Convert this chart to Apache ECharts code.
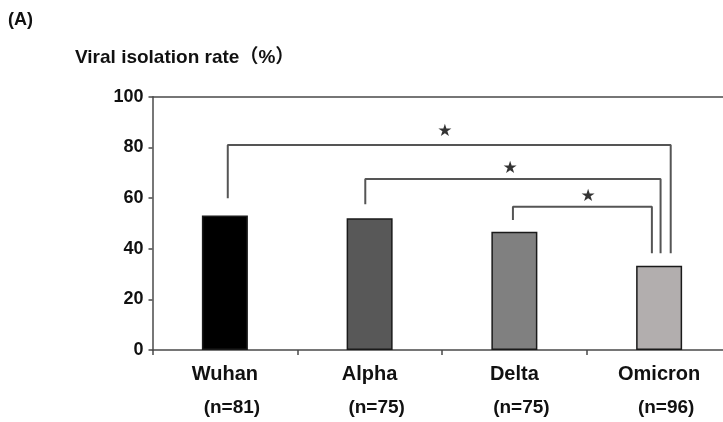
<!DOCTYPE html>
<html>
<head>
<meta charset="utf-8">
<script src="https://cdn.jsdelivr.net/npm/echarts@6/dist/echarts.min.js"></script>
<style>
html,body{margin:0;padding:0;background:#fff;}
#c{width:723px;height:422px;}
</style>
</head>
<body>
<div id="c"></div>
<script>
// ---- data ----
const categories = ["Wuhan", "Alpha", "Delta", "Omicron"];
const sampleSizes = ["(n=81)", "(n=75)", "(n=75)", "(n=96)"];
const isolationRate = [53.1, 52.0, 46.7, 33.3];
const yTicks = [0, 20, 40, 60, 80, 100];
// significance brackets: [leftX, leftBottomY, topY, rightX, rightBottomY] in category units / %
const bracket1 = [0.02, 59.9, 80.9, 3.08, 38.2];
const bracket2 = [0.97, 57.5, 67.5, 3.01, 38.2];
const bracket3 = [1.99, 51.3, 56.6, 2.95, 38.2];
const starX = [1.52, 1.97, 2.51];
const starY = [86.3, 71.7, 60.5];
const starText = "★";

const barColors = ["#000000", "#585858", "#808080", "#b2aeae"];
const lineColor = "#4a4a4a";
const font = "'Liberation Sans', Arial, 'Noto Sans CJK JP', sans-serif";

const brackets = [bracket1, bracket2, bracket3];
const bracketSeries = brackets.map(b => ({
  type: "line",
  xAxisIndex: 1,
  yAxisIndex: 0,
  symbol: "none",
  silent: true,
  animation: false,
  lineStyle: { color: "#555", width: 2 },
  data: [[b[0], b[1]], [b[0], b[2]], [b[3], b[2]], [b[3], b[4]]]
}));

const chart = echarts.init(document.getElementById("c"), null, { renderer: "canvas" });
chart.setOption({
  animation: false,
  backgroundColor: "#fff",
  title: [
    { text: "(A)", left: 8, top: 11, padding: 0, textStyle: { fontFamily: font, fontWeight: "bold", fontSize: 18, color: "#111" } },
    { text: "Viral isolation rate（%）", left: 75, top: 48, padding: 0, textStyle: { fontFamily: font, fontWeight: "bold", fontSize: 19, color: "#111" } }
  ],
  grid: { left: 152.5, width: 579, top: 96.7, height: 253.3, containLabel: false, outerBoundsMode: "none" },
  xAxis: [
    {
      type: "category",
      data: categories,
      position: "bottom",
      axisLine: { show: true, onZero: false, lineStyle: { color: lineColor, width: 1.5 } },
      axisTick: { show: true, alignWithLabel: false, length: 5, lineStyle: { color: lineColor, width: 1.5 } },
      axisLabel: {
        margin: 8,
        interval: 0,
        formatter: (v, i) => "{a|" + v + "}\n{b|" + sampleSizes[i] + "}",
        rich: {
          a: { fontFamily: font, fontWeight: "bold", fontSize: 20, color: "#111", lineHeight: 33 },
          b: { fontFamily: font, fontWeight: "bold", fontSize: 19, color: "#111", lineHeight: 33, padding: [0, 0, 0, 14] }
        }
      },
      splitLine: { show: false }
    },
    {
      type: "value",
      position: "top",
      min: -0.5,
      max: 3.5,
      axisLine: { show: true, onZero: false, lineStyle: { color: lineColor, width: 1.5 } },
      axisTick: { show: false },
      axisLabel: { show: false },
      splitLine: { show: false }
    }
  ],
  yAxis: {
    type: "value",
    min: yTicks[0],
    max: yTicks[yTicks.length - 1],
    interval: yTicks[1] - yTicks[0],
    axisLine: { show: true, onZero: false, lineStyle: { color: lineColor, width: 1.5 } },
    axisTick: { show: true, length: 4, lineStyle: { color: lineColor, width: 1.5 } },
    axisLabel: { margin: 9, fontFamily: font, fontWeight: "bold", fontSize: 18, color: "#111" },
    splitLine: { show: false }
  },
  series: [
    {
      type: "bar",
      xAxisIndex: 0,
      barWidth: 46,
      data: isolationRate.map((v, i) => ({ value: v, itemStyle: { color: barColors[i] } })),
      itemStyle: { borderColor: "#1a1a1a", borderWidth: 1.5 }
    },
    ...bracketSeries,
    {
      type: "scatter",
      xAxisIndex: 1,
      symbolSize: 1,
      itemStyle: { color: "rgba(0,0,0,0)" },
      data: starX.map((x, i) => [x, starY[i]]),
      label: {
        show: true,
        position: "inside",
        formatter: () => starText,
        fontFamily: "'DejaVu Sans', sans-serif",
        fontSize: 17,
        color: "#000"
      }
    }
  ]
});
</script>
</body>
</html>
